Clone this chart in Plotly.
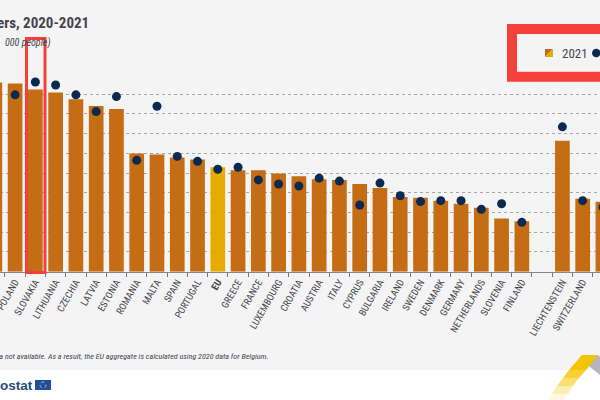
import plotly.graph_objects as go

categories = ["HUNGARY", "POLAND", "SLOVAKIA", "LITHUANIA", "CZECHIA", "LATVIA", "ESTONIA", "ROMANIA", "MALTA",
              "SPAIN", "PORTUGAL", "<b>EU</b>", "GREECE", "FRANCE", "LUXEMBOURG", "CROATIA", "AUSTRIA", "ITALY",
              "CYPRUS", "BULGARIA", "IRELAND", "SWEDEN", "DENMARK", "GERMANY", "NETHERLANDS", "SLOVENIA",
              "FINLAND", " ", "LIECHTENSTEIN", "SWITZERLAND", "NORWAY"]
values_2021 = [958, 953, 923, 908, 873, 839, 824, 599, 594, 579, 569, 529, 514, 514, 497, 484, 468, 465,
               444, 424, 378, 375, 360, 344, 324, 270, 255, None, 663, 370, 354]
values_2020 = [None, 896, 961, 946, 896, 811, 887, 564, 838, 584, 559, 519, 529, 465, 444, 434, 474, 459,
               338, 449, 385, 355, 360, 360, 316, 344, 250, None, 734, 360, 327]

BAR = "#c56d14"
EU = "#e6ac00"
NAVY = "#0c2a50"
RED = "#f4403a"
TXT = "#44444c"
BG = "#f4f4f5"
COND = "Roboto Condensed, Open Sans Condensed, DejaVu Sans Condensed, Liberation Sans Narrow, Roboto"

bar_colors = [EU if c == "<b>EU</b>" else BAR for c in categories]

fig = go.Figure()
fig.add_bar(x=categories, y=values_2021, name="2021", marker=dict(color=bar_colors, line_width=0), width=0.725)
fig.add_scatter(x=categories, y=values_2020, name="2020", mode="markers",
                marker=dict(color=NAVY, size=9, line_width=0))

def T(x, y, s, size, anchor="left", color=TXT, family=COND, **kw):
    fig.add_annotation(xref="paper", yref="paper", x=x / 600, y=1 - y / 400, text=s, showarrow=False,
                       xanchor=anchor, yanchor="middle", font=dict(size=size, color=color, family=family),
                       borderpad=0, **kw)

def R(x0, y0, x1, y1, **kw):
    fig.add_shape(type="rect", xref="paper", yref="paper", x0=x0 / 600, x1=x1 / 600,
                  y0=1 - y1 / 400, y1=1 - y0 / 400, **kw)

def P(points, color, opacity=1, layer="above"):
    path = "M" + " L".join(f"{x / 600:.5f},{1 - y / 400:.5f}" for x, y in points) + " Z"
    fig.add_shape(type="path", xref="paper", yref="paper", path=path, fillcolor=color,
                  line_width=0, opacity=opacity, layer=layer)

# white footer band
R(0, 370, 600, 400, fillcolor="white", line_width=0, layer="below")

T(90, 23, "<b>ers, 2020-2021</b>", 15, anchor="right")
T(52, 43, "<i>000 people)</i>", 10, anchor="right")
T(270, 356, "<i>ta not available. As a result, the EU aggregate is calculated using 2020 data for Belgium.</i>",
  8.05, anchor="right")
T(34, 385, "<b>ostat</b>", 13.5, anchor="right", color="#2a4a7c", family="Liberation Sans")

# EU flag
R(35, 380, 51, 390, fillcolor="#1f4fa3", line_width=0)
fig.add_shape(type="circle", xref="paper", yref="paper", x0=40 / 600, x1=46 / 600, y0=1 - 388 / 400, y1=1 - 382 / 400,
              line=dict(color="#d8c24a", width=1, dash="dot"))

# legend
P([(545, 49), (553, 49), (545, 57)], BAR)
P([(553, 49), (553, 57), (545, 57)], EU)
T(561, 53, "2021", 13)
fig.add_shape(type="circle", xref="paper", yref="paper", x0=592 / 600, x1=600.5 / 600, y0=1 - 57.3 / 400, y1=1 - 48.7 / 400,
              fillcolor=NAVY, line_width=0)

# red highlight boxes
R(512, 29, 620, 76.7, line=dict(color=RED, width=10), fillcolor="rgba(0,0,0,0)")
R(26.5, 38.5, 45, 272.5, line=dict(color=RED, width=3), fillcolor="rgba(0,0,0,0)")

# corner logo
P([(590, 355), (598, 355), (600, 357), (600, 375), (589, 366)], "#b4b6ba")
stripe = [(355, 582, 598), (370, 569, 586), (378, 563, 579), (386, 557, 573), (394, 552, 568), (400, 548, 563)]
fades = [1, 0.8, 0.55, 0.3, 0.12]
for (y0, a0, b0), (y1, a1, b1), op in zip(stripe, stripe[1:], fades):
    P([(a0, y0), (b0, y0), (b1, y1), (a1, y1)], "#f5c400", op)

fig.update_layout(
    width=600, height=400, margin=dict(l=0, r=0, t=0, b=0), autosize=False,
    paper_bgcolor=BG, plot_bgcolor="rgba(0,0,0,0)", showlegend=False, bargap=0.275,
    xaxis=dict(type="category", categoryorder="array", categoryarray=categories,
               range=[0.255, 29.855], tickson="boundaries", ticks="outside", ticklen=4, tickwidth=1,
               tickcolor="#777", showline=True, linecolor="#888", linewidth=1, showgrid=False,
               tickangle=-60, tickfont=dict(family=COND, size=9.8, color=TXT),
               automargin=False),
    yaxis=dict(range=[0, 1000], domain=[1 - 271.7 / 400, 1 - 74.3 / 400], dtick=100, showticklabels=False,
               showgrid=True, gridcolor="#a6a6a6", griddash="dot", gridwidth=1, zeroline=False, automargin=False),
)
fig.write_html("out.html", config=dict(displayModeBar=False),
               post_script="document.body.style.margin='0';document.body.style.overflow='hidden';")
